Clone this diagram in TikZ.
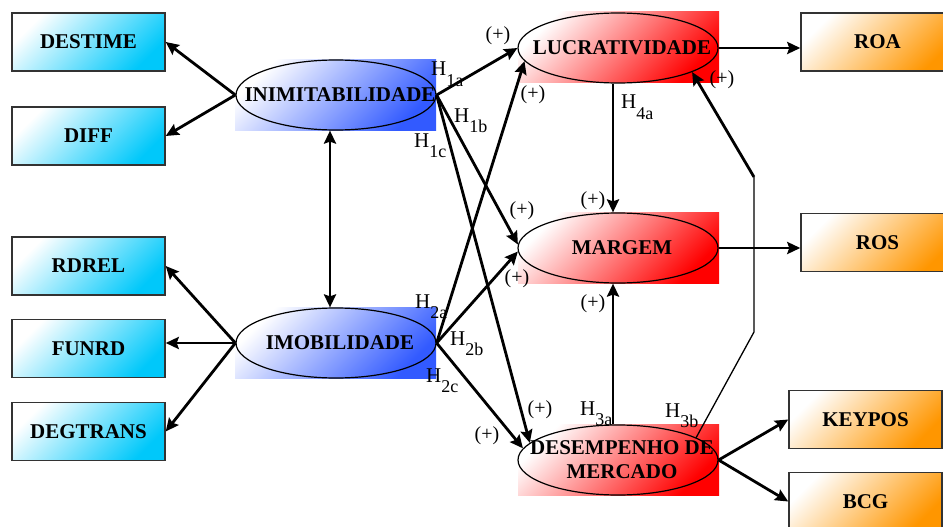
\documentclass[tikz,border=0pt]{standalone}
\usepackage{fontspec}
\setmainfont{Liberation Serif}
\usepackage{tikz}
\usetikzlibrary{arrows.meta,shapes.geometric}

\definecolor{indcyan}{RGB}{0,200,250}
\definecolor{indorange}{RGB}{255,150,0}
\definecolor{latblue}{RGB}{50,90,255}
\definecolor{latred}{RGB}{255,0,0}

\newcommand{\hyp}[1]{H\raisebox{-10pt}{\fontsize{18}{18}\selectfont #1}}

\tikzset{
  >={Stealth[length=13pt,width=12pt,inset=2pt]},
  indicator/.style={rectangle, draw=black!80, line width=1.5pt, minimum width=153pt, minimum height=58pt, inner sep=0pt, font=\bfseries\fontsize{21}{24}\selectfont},
  leftind/.style={indicator, top color=white, bottom color=indcyan, shading angle=45},
  rightind/.style={indicator, top color=white, bottom color=indorange, shading angle=45},
  latbg/.style={rectangle, inner sep=0pt, minimum width=201pt, minimum height=71pt},
  bluebg/.style={latbg, top color=white, bottom color=latblue, shading angle=45},
  redbg/.style={latbg, top color=white, bottom color=latred, shading angle=45},
  latent/.style={ellipse, draw=black, line width=1.2pt, minimum width=200pt, minimum height=70pt, inner sep=0pt},
  lattext/.style={font=\bfseries\fontsize{21}{24}\selectfont, align=center, xshift=4pt},
  link/.style={line width=2.8pt, ->},
  hyplabel/.style={anchor=base west, inner sep=0pt, font=\fontsize{21}{21}\selectfont},
  sign/.style={inner sep=0pt, font=\fontsize{20}{20}\selectfont}
}

\begin{document}
\begin{tikzpicture}[x=1pt,y=-1pt]
\useasboundingbox (0,0) rectangle (943,527);
\clip (0,0) rectangle (943,527);

\node[leftind] (destime) at (88.5,42) {DESTIME};
\node[leftind] (diff) at (88.5,136) {DIFF};
\node[leftind] (rdrel) at (88.5,266) {RDREL};
\node[leftind] (funrd) at (88.5,348.5) {FUNRD};
\node[leftind] (degtrans) at (88.5,431.5) {DEGTRANS};

\node[bluebg] (inimbg) at (335.5,95) {};
\node[latent, label={[lattext]center:INIMITABILIDADE}] (inim) at (336,95) {};
\node[bluebg] (imobbg) at (335.5,342.5) {};
\node[latent, label={[lattext]center:IMOBILIDADE}] (imob) at (336,343) {};

\node[redbg] (lucrbg) at (618.5,47.5) {};
\node[latent, label={[lattext]center:LUCRATIVIDADE}] (lucr) at (618,48) {};
\node[redbg] (margbg) at (618.5,248) {};
\node[latent, label={[lattext]center:MARGEM}] (marg) at (618,248) {};
\node[redbg] (desempbg) at (618.5,460) {};
\node[latent, label={[lattext]center:DESEMPENHO DE\\MERCADO}] (desemp) at (618,460) {};

\node[rightind] (roa) at (877.5,42) {ROA};
\node[rightind] (ros) at (877.5,242.5) {ROS};
\node[rightind] (keypos) at (865.5,419.5) {KEYPOS};
\node[rightind] (bcg) at (865.5,501.5) {BCG};

\coordinate (bendlo) at (754,332);
\coordinate (bendhi) at (754,177);

\draw[link] (inim.west) -- (destime.east);
\draw[link] (inim.west) -- (diff.east);
\draw[link] (imob.west) -- (rdrel.east);
\draw[link] (imob.west) -- (imob.west -| funrd.east);
\draw[link] (imob.west) -- (degtrans.east);
\draw[link, <->] ([xshift=-6pt]inim.south) -- ([xshift=-6pt]imob.north);

\draw[link] (inim.east) -- (lucr.west);
\draw[link] (inim.east) -- (marg.178);
\draw[link] (inim.east) -- (desemp.169);
\draw[link] (imob.east) -- (lucr.188);
\draw[link] (imob.east) -- (marg.182);
\draw[link] (imob.east) -- (desemp.173);
\draw[link] ([xshift=-5pt]lucr.south) -- ([xshift=-5pt]marg.north);
\draw[link] ([xshift=-5pt]desemp.north) -- ([xshift=-5pt]marg.south);
\draw[line width=1.3pt] (desemp.16) -- (bendlo) -- (bendhi);
\draw[link] (bendhi) -- (lucr.342);

\draw[link] (lucr.east) -- (lucr.east -| roa.west);
\draw[link] (marg.east) -- (marg.east -| ros.west);
\draw[link] (desemp.east) -- (keypos.west);
\draw[link] (desemp.east) -- (bcg.west);

\node[hyplabel] (h1a) at (431,76) {\hyp{1a}};
\node[hyplabel] (h1b) at (454,122) {\hyp{1b}};
\node[hyplabel] (h1c) at (414,147) {\hyp{1c}};
\node[hyplabel] (h4a) at (621,109) {\hyp{4a}};
\node[hyplabel] (h2a) at (415,308) {\hyp{2a}};
\node[hyplabel] (h2b) at (450,345) {\hyp{2b}};
\node[hyplabel] (h2c) at (426,382) {\hyp{2c}};
\node[hyplabel] (h3a) at (580,415) {\hyp{3a}};
\node[hyplabel] (h3b) at (665,417) {\hyp{3b}};

\node[sign] (sgn1) at (498,36) {(+)};
\node[sign] (sgn2) at (533,95) {(+)};
\node[sign] (sgn3) at (722,80) {(+)};
\node[sign] (sgn4) at (522,211) {(+)};
\node[sign] (sgn5) at (593,201) {(+)};
\node[sign] (sgn6) at (517,279) {(+)};
\node[sign] (sgn7) at (593,304) {(+)};
\node[sign] (sgn8) at (540,410) {(+)};
\node[sign] (sgn9) at (487,436) {(+)};

\end{tikzpicture}
\end{document}
